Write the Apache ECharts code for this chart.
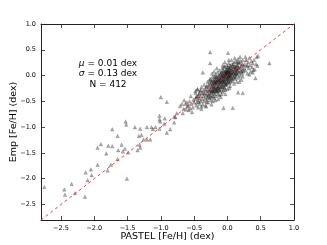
<!DOCTYPE html>
<html><head><meta charset="utf-8">
<script src="https://cdn.jsdelivr.net/npm/echarts@6/dist/echarts.min.js"></script>
<style>html,body{margin:0;padding:0;background:#fff}#c{width:327px;height:245px}</style>
</head><body><div id="c"></div>
<script>
const tickValues = [-2.5, -2.0, -1.5, -1.0, -0.5, 0.0, 0.5, 1.0];
const axisMin = -2.8, axisMax = 1.0;
const oneToOne = [[-2.8, -2.8], [1.0, 1.0]];
const statsLines = ['{i|μ} = 0.01 dex', '{i|σ} = 0.13 dex', 'N = 412'];

const metalPoor = [[-2.75,-2.16],[-2.45,-2.21],[-2.44,-2.31],[-2.34,-2.10],[-2.29,-2.28],[-2.14,-2.35],[-2.13,-1.88],[-2.10,-2.03],[-2.05,-1.82],[-2.04,-1.93],[-1.95,-1.73],[-1.95,-1.40],[-1.90,-1.33],[-1.82,-1.51],[-1.80,-1.84],[-1.79,-1.36],[-1.75,-1.73],[-1.73,-1.37],[-1.73,-1.04],[-1.65,-1.62],[-1.65,-1.17],[-1.64,-1.45],[-1.59,-1.34],[-1.57,-1.47],[-1.54,-1.42],[-1.52,-0.95],[-1.51,-2.0],[-1.49,-1.49],[-1.39,-1.0],[-1.35,-1.45],[-1.33,-1.17],[-1.32,-1.34],[-1.31,-1.40],[-1.31,-1.03],[-1.29,-1.15],[-1.26,-1.24],[-1.21,-1.0],[-1.21,-1.24],[-1.16,-1.24],[-1.14,-1.0],[-1.12,-1.04],[-1.08,-1.0],[-1.02,-1.03]];

const intermediate = [[-1.53,-0.89],[-1.0,-0.42],[-0.91,-0.51],[-0.71,-0.59],[-0.66,-0.65],[-0.63,-0.55],[-0.60,-0.60],[-0.58,-0.67],[-0.56,-0.64],[-0.53,-0.71],[-0.51,-0.47],[-0.48,-0.34],[-0.47,-0.42],[-0.43,-0.51],[-0.45,-0.27],[-0.42,-0.34],[-0.67,-0.73],[-0.76,-0.73],[-0.78,-0.81],[-0.80,-0.91],[-0.86,-1.04],[-0.91,-1.11],[-1.02,-0.78],[-1.02,-0.85],[-1.01,-0.89],[-0.95,-0.94],[-0.94,-0.83],[-0.80,-0.80],[-0.39,-0.60],[-0.32,-0.60],[-0.31,-0.51]];

const outliers = [[-0.26,0.45],[0.01,0.44],[-0.26,0.24],[0.63,0.24],[0.46,0.38],[0.45,0.19],[0.39,0.11],[0.38,0.06],[-0.37,0.06],[0.16,-0.33],[0.23,-0.34],[-0.06,-0.63],[0.08,-0.63],[0.42,-0.05]];

const clusterLow = [[-0.68,-0.55],[-0.65,-0.48],[-0.62,-0.66],[-0.61,-0.52],[-0.59,-0.58],[-0.57,-0.50],[-0.55,-0.40],[-0.54,-0.55],[-0.52,-0.62],[-0.50,-0.52],
[-0.48,-0.45],[-0.48,-0.30],[-0.47,-0.58],[-0.46,-0.40],[-0.46,-0.52],[-0.45,-0.26],[-0.44,-0.48],[-0.44,-0.62],[-0.43,-0.36],[-0.42,-0.44],[-0.42,-0.55],[-0.41,-0.30],[-0.40,-0.40],[-0.40,-0.50],[-0.39,-0.22],[-0.39,-0.65],[-0.38,-0.34],[-0.38,-0.46],[-0.37,-0.56],[-0.36,-0.28],[-0.36,-0.40],[-0.35,-0.18],[-0.35,-0.50],[-0.34,-0.35],[-0.34,-0.44],[-0.33,-0.26],[-0.33,-0.58],[-0.32,-0.38],[-0.32,-0.30],[-0.31,-0.47],[-0.31,-0.20],[-0.30,-0.34],[-0.30,-0.42],[-0.30,-0.12],[-0.29,-0.28],[-0.29,-0.52],[-0.28,-0.36],[-0.28,-0.22],[-0.27,-0.44],[-0.27,-0.30]];

const clusterMid = [[-0.26,-0.16],[-0.26,-0.38],[-0.25,-0.26],[-0.25,-0.08],[-0.25,-0.48],[-0.24,-0.32],[-0.24,-0.20],[-0.23,-0.12],[-0.23,-0.40],[-0.22,-0.28],[-0.22,-0.02],[-0.22,-0.18],[-0.21,-0.34],[-0.21,-0.24],[-0.20,-0.10],[-0.20,-0.44],[-0.20,-0.30],[-0.19,-0.16],[-0.19,-0.06],[-0.19,-0.36],[-0.18,-0.22],[-0.18,0.02],[-0.18,-0.28],[-0.17,-0.12],[-0.17,-0.40],[-0.17,-0.18],[-0.16,-0.04],[-0.16,-0.26],[-0.16,-0.32],[-0.15,-0.14],[-0.15,0.06],[-0.15,-0.20],[-0.14,-0.08],[-0.14,-0.36],[-0.14,-0.24],[-0.13,-0.16],[-0.13,0.00],[-0.13,-0.28],[-0.12,-0.10],[-0.12,-0.20],[-0.12,0.10],[-0.11,-0.04],[-0.11,-0.30],[-0.11,-0.14],[-0.10,-0.22],[-0.10,0.04],[-0.10,-0.08],[-0.10,-0.42],[-0.26,-0.06],[-0.24,-0.56],[-0.22,-0.50],[-0.20,0.08],[-0.18,-0.48],[-0.16,0.14],[-0.14,-0.46],[-0.12,-0.38],[-0.23,0.04],[-0.21,-0.14],[-0.19,-0.26],[-0.17,-0.02],[-0.15,-0.30],[-0.13,-0.22],[-0.11,0.02],[-0.25,-0.34],[-0.21,-0.40],[-0.17,-0.08],[-0.13,-0.06],[-0.15,-0.10],[-0.19,-0.12],[-0.23,-0.22]];

const clusterCore = [[-0.09,-0.12],[-0.09,0.06],[-0.09,-0.26],[-0.08,-0.02],[-0.08,-0.18],[-0.08,0.14],[-0.07,-0.08],[-0.07,-0.32],[-0.07,0.02],[-0.06,-0.14],[-0.06,0.10],[-0.06,-0.04],[-0.05,-0.22],[-0.05,0.04],[-0.05,-0.10],[-0.04,0.18],[-0.04,-0.06],[-0.04,-0.16],[-0.03,0.00],[-0.03,0.08],[-0.03,-0.28],[-0.02,-0.10],[-0.02,0.12],[-0.02,-0.02],[-0.01,0.04],[-0.01,-0.18],[-0.01,0.20],[0.00,-0.06],[0.00,0.02],[0.00,0.10],[0.00,-0.14],[0.01,0.06],[0.01,-0.02],[0.01,0.16],[0.02,-0.10],[0.02,0.00],[0.02,0.24],[0.03,0.08],[0.03,-0.04],[0.03,0.14],[0.04,-0.20],[0.04,0.04],[0.04,0.10],[0.05,-0.08],[0.05,0.18],[0.05,0.00],[-0.09,-0.04],[-0.08,0.08],[-0.07,-0.20],[-0.06,0.00],[-0.05,0.16],[-0.04,-0.24],[-0.03,0.04],[-0.02,0.06],[-0.01,-0.08],[0.00,0.16],[0.01,-0.12],[0.02,0.08],[0.03,-0.14],[0.04,0.20],[0.05,0.06],[-0.09,-0.36],[-0.06,-0.28],[-0.03,-0.36],[0.00,-0.26],[0.03,-0.24],[-0.07,0.20],[-0.04,0.26],[-0.01,0.10],[0.02,0.30],[0.04,-0.02],[-0.02,-0.16],[0.01,0.00],[-0.05,-0.02],[-0.08,-0.10]];

const clusterExtra = [[-0.28,-0.18],[-0.27,-0.10],[-0.26,-0.28],[-0.24,-0.14],[-0.23,-0.30],[-0.22,-0.08],[-0.21,-0.20],[-0.20,-0.22],[-0.19,-0.02],[-0.18,-0.14],[-0.17,-0.30],[-0.16,-0.12],[-0.15,-0.24],[-0.14,-0.02],[-0.13,-0.12],[-0.12,-0.28],[-0.11,-0.08],[-0.10,-0.16],[-0.09,0.00],[-0.08,-0.22],[-0.07,-0.12],[-0.06,-0.06],[-0.05,0.08],[-0.04,-0.12],[-0.03,-0.18],[-0.02,0.02],[-0.01,-0.04],[0.00,0.06],[0.01,0.10],[0.02,-0.06],[0.03,0.02],[0.04,0.14],[0.05,-0.12],[0.06,0.04],[0.07,-0.06],[0.08,0.12],[0.09,0.22],[0.10,-0.04],[0.11,0.16],[0.12,0.04],[0.13,0.14],[0.14,0.04],[0.15,0.26],[-0.32,-0.22],[-0.36,-0.34],[-0.40,-0.28],[-0.44,-0.40],[-0.29,-0.40],[-0.25,-0.42],[-0.21,-0.30]];

const clusterHigh = [[0.06,0.12],[0.06,-0.04],[0.07,0.02],[0.07,0.22],[0.08,-0.10],[0.08,0.08],[0.09,0.16],[0.09,-0.02],[0.10,0.04],[0.10,0.26],[0.10,-0.16],[0.11,0.10],[0.11,0.00],[0.12,0.18],[0.12,-0.06],[0.13,0.06],[0.13,0.28],[0.14,0.12],[0.14,-0.12],[0.15,0.02],[0.15,0.20],[0.16,0.08],[0.16,0.32],[0.17,0.14],[0.17,-0.04],[0.18,0.24],[0.18,0.06],[0.19,0.16],[0.19,0.00],[0.20,0.10],[0.20,0.28],[0.21,0.18],[0.21,-0.08],[0.22,0.04],[0.22,0.22],[0.23,0.12],[0.23,0.30],[0.24,0.08],[0.24,0.20],[0.25,0.14],[0.06,0.30],[0.08,0.18],[0.11,0.34],[0.13,-0.02],[0.15,0.10],[0.17,0.26],[0.19,0.36],[0.21,0.08],[0.23,-0.02],[0.07,0.08],[0.09,0.06],[0.12,0.12],[0.14,0.20],[0.16,0.16],[0.18,-0.12],
[0.26,0.22],[0.27,0.10],[0.28,0.30],[0.29,0.18],[0.30,0.04],[0.31,0.26],[0.32,0.14],[0.33,0.34],[0.34,0.20],[0.35,0.08],[0.36,0.28],[0.37,0.16],[0.38,0.24],[0.40,0.30],[0.41,0.12],[0.43,0.22],[0.44,0.36],[0.27,0.36],[0.30,0.20],[0.33,0.02]];

const allPoints = [].concat(metalPoor, intermediate, outliers, clusterLow, clusterMid, clusterCore, clusterExtra, clusterHigh);

const fmt = v => v.toFixed(1).replace('-', '\u2212');
const FONT = 'DejaVu Sans';
const frame = { show: true, onZero: false, lineStyle: { color: '#222', width: 1 } };
const ticks = { show: true, inside: true, length: 4, customValues: tickValues, lineStyle: { color: '#222', width: 0.8 } };

function mainAxis(name, gap, pos) {
  return {
    type: 'value', min: axisMin, max: axisMax, position: pos,
    name: name, nameLocation: 'middle', nameGap: gap, nameMoveOverlap: false,
    nameTextStyle: { fontFamily: FONT, fontSize: 9.5, color: '#000' },
    axisLine: frame, axisTick: ticks, splitLine: { show: false },
    axisLabel: { customValues: tickValues, formatter: fmt, fontFamily: FONT, fontSize: 6.5, color: '#000', margin: 5 }
  };
}
function mirrorAxis(pos) {
  return {
    type: 'value', min: axisMin, max: axisMax, position: pos,
    axisLine: frame, axisTick: ticks, splitLine: { show: false }, axisLabel: { show: false }
  };
}

const chart = echarts.init(document.getElementById('c'));
chart.setOption({
  animation: false,
  grid: { left: 41, top: 24, right: 33, bottom: 25, containLabel: false, outerBoundsMode: 'none' },
  xAxis: [mainAxis('PASTEL [Fe/H] (dex)', 12, 'bottom'), mirrorAxis('top')],
  yAxis: [mainAxis('Emp [Fe/H] (dex)', 22, 'left'), mirrorAxis('right')],
  series: [
    {
      type: 'scatter', data: allPoints, symbol: 'triangle', symbolSize: 3.5,
      itemStyle: { color: 'rgba(30,30,30,0.45)', borderColor: 'rgba(0,0,0,0.5)', borderWidth: 0.4 },
      z: 2
    },
    {
      type: 'line', data: oneToOne, symbol: 'none',
      lineStyle: { color: '#ff2020', width: 0.9, type: [3, 3] }, z: 3
    }
  ],
  graphic: statsLines.map((t, i) => ({
    type: 'text', x: 108, y: 63.5 + i * 10.5,
    style: {
      text: t, textAlign: 'center', textVerticalAlign: 'middle',
      fontFamily: FONT, fontSize: 9, fill: '#000',
      rich: { i: { fontStyle: 'italic', fontFamily: FONT, fontSize: 9 } }
    }
  }))
});
</script></body></html>
